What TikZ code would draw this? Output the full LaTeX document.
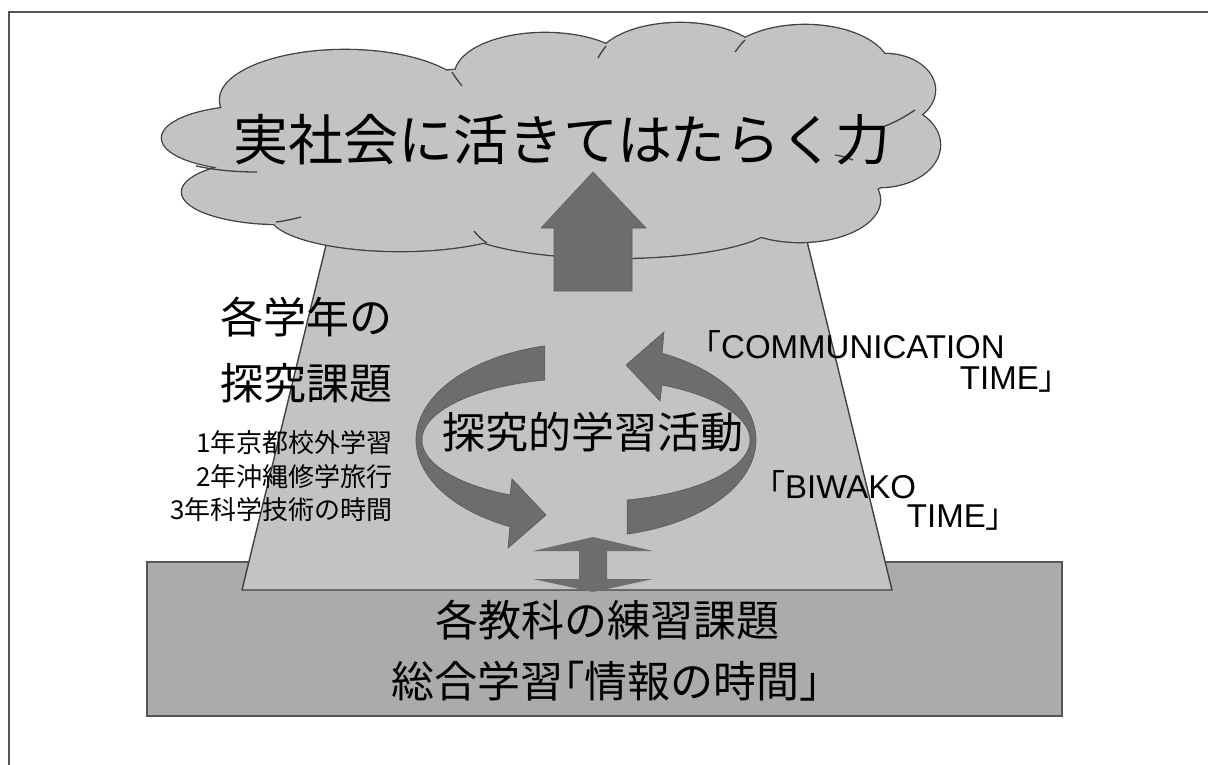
\documentclass[tikz,border=0pt]{standalone}
\usepackage{fontspec}
\setmainfont{Noto Sans CJK JP}
\newfontfamily\latf{Liberation Sans}
\definecolor{cloudfill}{HTML}{C3C3C3}
\definecolor{boxfill}{HTML}{ABABAB}
\definecolor{arrowfill}{HTML}{6D6D6D}
\definecolor{linecol}{HTML}{404040}
\definecolor{framecol}{HTML}{555555}
\tikzset{
  outline/.style={draw=linecol, line width=1.4pt},
  tail/.style={draw=linecol, line width=1.3pt},
  bigtxt/.style={inner sep=0pt, font=\fontsize{55}{60}\selectfont},
  midtxt/.style={inner sep=0pt, font=\fontsize{43}{48}\selectfont},
  smalltxt/.style={inner sep=0pt, font=\fontsize{26}{30}\selectfont},
  lattxt/.style={inner sep=0pt, font=\fontsize{33}{36}\selectfont},
  ringarrow/.style={fill=arrowfill, draw=arrowfill!80!black, line width=0.6pt},
}
\newcommand{\ringpath}{%
  ([shift={(-104:170 and 97)}]ctr) arc[start angle=-104, end angle=-243.4, x radius=170, y radius=97]
  -- (508,548) -- (546,515) -- (512,479)
  -- ([shift={(-242.4:164 and 62)}]ctr) arc[start angle=-242.4, end angle=-104.5, x radius=164, y radius=62] -- cycle}
\newcommand{\lobes}{%
  (255,138) ellipse [x radius=93, y radius=32]
  (280,192) ellipse [x radius=98, y radius=32]
  (400,215) ellipse [x radius=130, y radius=36]
  (615,222) ellipse [x radius=160, y radius=36]
  (800,200) ellipse [x radius=80, y radius=42]
  (880,145) ellipse [x radius=60, y radius=42]
  (885,90) ellipse [x radius=50, y radius=36]
  (805,70) ellipse [x radius=85, y radius=45]
  (680,65) ellipse [x radius=85, y radius=42]
  (545,75) ellipse [x radius=90, y radius=42]
  (345,100) ellipse [x radius=125, y radius=50]
  (570,150) ellipse [x radius=345, y radius=85]}
\begin{document}
\begin{tikzpicture}[x=1pt,y=-1pt]
\useasboundingbox (0,0) rectangle (1208,765);
\fill[white] (0,0) rectangle (1208,765);
% frame (only left and top visible)
\draw[framecol, line width=1.5pt] (9,780) -- (9,12) -- (1220,12);

% base box
\node[draw=framecol, line width=2.2pt, fill=boxfill, minimum width=915pt, minimum height=154pt, inner sep=0pt] (base) at (604.5,639) {};

% trapezoid
\draw[outline, fill=cloudfill, line join=round] (242,590) -- (892,590) -- (797,200) -- (337,200) -- cycle;

% up-down flat arrow
\fill[arrowfill] (593,537) -- (653,551) -- (607,551) -- (607,579) -- (653,579) -- (593,592) -- (533,579) -- (579,579) -- (579,551) -- (533,551) -- cycle;

% cloud
\path[draw=linecol, line width=2.6pt] \lobes;
\path[fill=cloudfill] \lobes;
% inner hooks of the cloud
\draw[tail] (196,166) .. controls (220,171) and (240,172) .. (257,172);
\draw[tail] (276,222) .. controls (285,221) and (293,219) .. (301,217);
\draw[tail] (474,231) .. controls (478,236) and (482,240) .. (487,243);
\draw[tail] (452,72) .. controls (455,77) and (458,81) .. (462,86);
\draw[tail] (606,46) .. controls (603,50) and (600,54) .. (598,58);
\draw[tail] (745,40) .. controls (741,44) and (738,48) .. (735,52);
\draw[tail] (835,155) .. controls (842,156) and (848,158) .. (853,160);
\draw[tail] (885,126) .. controls (896,122) and (906,116) .. (915,110);

% main up arrow
\draw[fill=arrowfill, draw=arrowfill!85!black, line width=0.6pt] (593,172) -- (646,228) -- (632,228) -- (632,291) -- (554,291) -- (554,228) -- (541,228) -- cycle;

\node[bigtxt] (goal) at (562,140) {実社会に活きてはたらく力};

% circular arrows
\coordinate (ctr) at (586,440);
\path[ringarrow] \ringpath;
\begin{scope}[rotate around={180:(586,440)}]
\path[ringarrow] \ringpath;
\end{scope}
\node[midtxt] (act) at (593,432) {探究的学習活動};

% left labels
\node[midtxt, anchor=east] (l1) at (393,317) {各学年の};
\node[midtxt, anchor=east] (l2) at (393,383) {探究課題};
\node[smalltxt, anchor=east] (s1) at (393,443) {1年京都校外学習};
\node[smalltxt, anchor=east] (s2) at (393,477) {2年沖縄修学旅行};
\node[smalltxt, anchor=east] (s3) at (393,510) {3年科学技術の時間};

% right labels
\node[lattxt, anchor=west] (c1) at (688,345) {「\latf COMMUNICATION};
\node[lattxt, anchor=east] (c2) at (1072,380) {{\latf TIME}」};
\node[lattxt, anchor=west] (b1) at (752,485) {「\latf BIWAKO};
\node[lattxt, anchor=east] (b2) at (1019,518) {{\latf TIME}」};

% base texts
\node[midtxt] (t1) at (607,620) {各教科の練習課題};
\node[midtxt] (t2) at (606,681) {総合学習｢情報の時間｣};
\end{tikzpicture}
\end{document}
